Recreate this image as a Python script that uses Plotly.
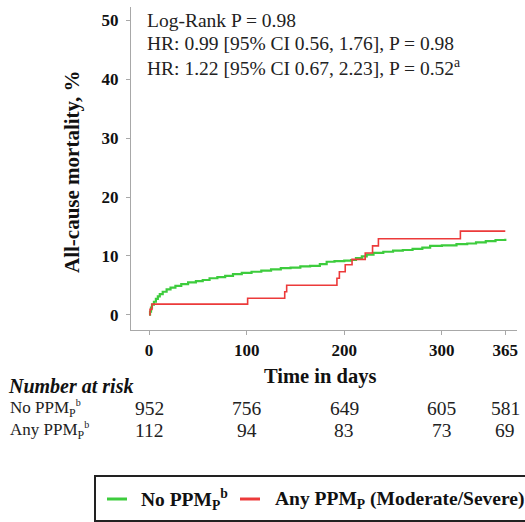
import plotly.graph_objects as go

# ---- data ----
green_days = [0, 1, 2, 3, 5, 7, 9, 11, 14, 18, 22, 27, 33, 40, 48, 55, 62, 70, 78, 86,
              95, 105, 115, 125, 135, 145, 155, 165, 175, 182, 190, 200, 207, 212, 218,
              223, 230, 240, 250, 260, 270, 280, 288, 300, 315, 326, 335, 345, 355, 365]
green_vals = [0, 0.5, 1.2, 1.7, 2.2, 2.7, 3.1, 3.5, 3.9, 4.3, 4.6, 4.9, 5.2, 5.5, 5.7, 5.9,
              6.2, 6.4, 6.6, 6.9, 7.1, 7.3, 7.5, 7.7, 7.9, 8.0, 8.2, 8.3, 8.6, 9.0, 9.1,
              9.2, 9.3, 9.6, 9.9, 10.2, 10.5, 10.7, 10.9, 11.0, 11.2, 11.4, 11.7, 11.8,
              12.0, 12.1, 12.3, 12.5, 12.7, 12.9]
red_days = [0, 1, 3, 101, 139, 141, 192.5, 195, 201, 208, 221.5, 229, 235, 319, 365]
red_vals = [0, 0.9, 1.8, 2.8, 3.9, 5.0, 6.2, 7.3, 8.5, 9.4, 10.5, 11.7, 12.9, 14.2, 14.2]

x_ticks = [0, 100, 200, 300, 365]
y_ticks = [0, 10, 20, 30, 40, 50]
risk_no = [952, 756, 649, 605, 581]
risk_any = [112, 94, 83, 73, 69]
risk_labels = ["No PPM<sub>P</sub><sup><span style='font-size:10px'>b</span></sup>",
               "Any PPM<sub>P</sub><sup><span style='font-size:10px'>b</span></sup>"]
stats_lines = ["Log-Rank P = 0.98",
               "HR: 0.99 [95% CI 0.56, 1.76], P = 0.98",
               "HR: 1.22 [95% CI 0.67, 2.23], P = 0.52<sup>a</sup>"]
legend_names = ["No PPM<sub>P</sub><sup>b</sup>", "Any PPM<sub>P</sub> (Moderate/Severe)"]

GREEN = "#3dcc3d"
RED = "#ec3a3a"
FONT = "Liberation Serif"

W, H = 525, 522
L, R, T, B = 131, 8, 7, 192
PW, PH = W - L - R, H - T - B


def px(xp):
    return (xp - L) / PW


def py(yp):
    return (T + PH - yp) / PH


fig = go.Figure()
fig.add_trace(go.Scatter(x=green_days, y=green_vals, mode="lines", line_shape="hv",
                         line=dict(color=GREEN, width=2.2), name=legend_names[0], showlegend=False))
fig.add_trace(go.Scatter(x=red_days, y=red_vals, mode="lines", line_shape="hv",
                         line=dict(color=RED, width=1.6), name=legend_names[1], showlegend=False))

annotations = []


def ann(x, y, text, size, xanchor="left", xref="paper", angle=0, color="#222"):
    annotations.append(dict(x=x, y=y, xref=xref, yref="paper", text=text, showarrow=False,
                            xanchor=xanchor, yanchor="middle", textangle=angle,
                            font=dict(family=FONT, size=size, color=color)))


# stats text
for i, s in enumerate(stats_lines):
    ann(px(145), py(20 + i * 23.5), s, 19.5)
# y title
ann(px(72), py(172), "<b>All-cause mortality, %</b>", 21, xanchor="center", angle=-90, color="#111")
# x title
ann(px(320), py(376), "<b>Time in days</b>", 20.5, xanchor="center", color="#111")
# number at risk
ann(px(6), py(386), "<b><i>Number at risk</i></b>", 20, color="#111")
for r, (lab, vals) in enumerate(zip(risk_labels, [risk_no, risk_any])):
    yy = py(408 + r * 22)
    ann(px(8), yy, lab, 17)
    for xv, v in zip(x_ticks, vals):
        ann(xv, yy, str(v), 19.5, xanchor="center", xref="x")

# manual legend
shapes = [dict(type="rect", xref="paper", yref="paper", x0=px(95), x1=px(560),
               y0=py(521), y1=py(476), line=dict(color="#222", width=2))]
leg_items = [(107, 127, GREEN, 139, legend_names[0]), (240, 260, RED, 273, legend_names[1])]
for x0, x1, col, tx, name in leg_items:
    shapes.append(dict(type="line", xref="paper", yref="paper", x0=px(x0), x1=px(x1),
                       y0=py(499), y1=py(499), line=dict(color=col, width=3)))
    ann(px(tx), py(500), "<b>" + name + "</b>", 19.5, color="#111")

fig.update_layout(
    width=W, height=H, margin=dict(l=L, r=R, t=T, b=B),
    plot_bgcolor="white", paper_bgcolor="white",
    annotations=annotations, shapes=shapes, showlegend=False,
    xaxis=dict(range=[-18.5, 377], tickvals=x_ticks, ticktext=[str(t) for t in x_ticks],
               showgrid=False, zeroline=False, showline=True, linecolor="#a8a8a8", linewidth=1.2,
               ticks="outside", ticklen=4, tickcolor="#a8a8a8",
               tickfont=dict(family=FONT, size=17, color="#111", weight="bold")),
    yaxis=dict(range=[-2.6, 52.3], tickvals=y_ticks, showgrid=False, zeroline=False,
               showline=True, linecolor="#a8a8a8", linewidth=1.2,
               ticks="outside", ticklen=4, tickcolor="#a8a8a8", ticklabelstandoff=4,
               tickfont=dict(family=FONT, size=17, color="#111", weight="bold")),
)

fig.write_html("out.html")
